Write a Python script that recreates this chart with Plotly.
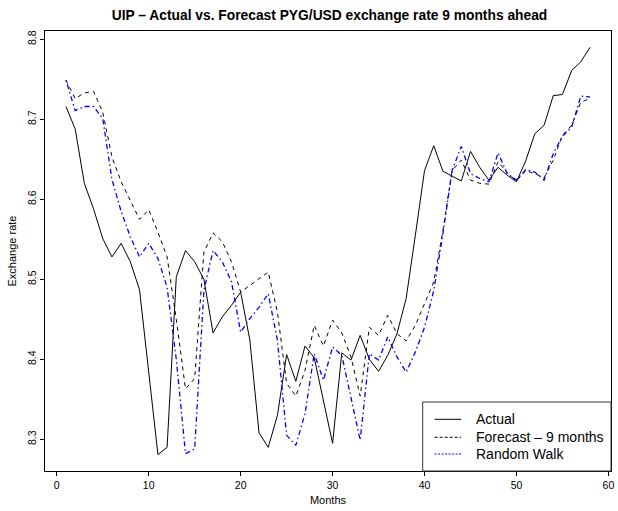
import plotly.graph_objects as go

months = list(range(1, 59))

actual = [8.716, 8.688, 8.620, 8.588, 8.551, 8.528, 8.545, 8.522, 8.487, 8.385,
          8.281, 8.290, 8.503, 8.536, 8.522, 8.500, 8.433, 8.453, 8.4675, 8.484,
          8.424, 8.308, 8.290, 8.330, 8.406, 8.3725, 8.4166, 8.402, 8.350, 8.295,
          8.408, 8.399, 8.430, 8.400, 8.385, 8.405, 8.432, 8.476, 8.555, 8.636,
          8.667, 8.635, 8.629, 8.623, 8.660, 8.640, 8.624, 8.640, 8.630, 8.622,
          8.648, 8.682, 8.6925, 8.7296, 8.731, 8.761, 8.772, 8.790]

forecast = [8.749, 8.726, 8.733, 8.735, 8.709, 8.653, 8.622, 8.599, 8.575, 8.587,
            8.559, 8.528, 8.450, 8.363, 8.376, 8.534, 8.558, 8.547, 8.522, 8.484,
            8.4925, 8.500, 8.509, 8.459, 8.370, 8.354, 8.386, 8.4425, 8.4166, 8.449,
            8.433, 8.403, 8.354, 8.440, 8.430, 8.455, 8.432, 8.423, 8.4425, 8.4696,
            8.4966, 8.561, 8.636, 8.649, 8.624, 8.620, 8.619, 8.647, 8.633, 8.623,
            8.636, 8.632, 8.627, 8.649, 8.680, 8.6925, 8.7216, 8.726]

random_walk = [8.749, 8.711, 8.716, 8.716, 8.701, 8.625, 8.585, 8.553, 8.528, 8.545,
               8.526, 8.490, 8.400, 8.282, 8.288, 8.486, 8.536, 8.522, 8.497, 8.434,
               8.451, 8.465, 8.482, 8.424, 8.305, 8.2925, 8.332, 8.407, 8.374, 8.4154,
               8.405, 8.353, 8.299, 8.407, 8.399, 8.428, 8.403, 8.384, 8.409, 8.440,
               8.486, 8.557, 8.636, 8.666, 8.632, 8.626, 8.622, 8.658, 8.632, 8.624,
               8.637, 8.634, 8.624, 8.657, 8.679, 8.690, 8.729, 8.728]

series_names = ["Actual", "Forecast \u2013 9 months", "Random Walk"]
x_ticks = [0, 10, 20, 30, 40, 50, 60]
y_ticks = [8.3, 8.4, 8.5, 8.6, 8.7, 8.8]

FONT = "Liberation Sans, Arial, Helvetica, sans-serif"

W, H = 618, 511
L, R, T, B = 45, 4, 31, 40
PW, PH = W - L - R, H - T - B

styles = [
    dict(color="black", width=1),
    dict(color="black", width=1, dash="4px,4px"),
    dict(color="#0000FF", width=1.3, dash="1.5px,3px,5px,3px"),
]

fig = go.Figure()
for name, vals, st in zip(series_names, [actual, forecast, random_walk], styles):
    fig.add_trace(go.Scatter(x=months, y=vals, mode="lines", name=name, line=st,
                             showlegend=False))

def px_x(px):
    return (px - L) / PW

def px_y(py):
    return (H - B - py) / PH

# R-style legend box (lower right)
fig.add_shape(type="rect", xref="paper", yref="paper",
              x0=px_x(424.7), x1=1.0, y0=0.0, y1=px_y(402),
              line=dict(color="#333333", width=1), fillcolor="white", layer="above")
legend_rows = [419.3, 437.3, 454.0]
leg_styles = [
    dict(color="black", width=1),
    dict(color="black", width=1, dash="3px,2px"),
    dict(color="#0000FF", width=1, dash="2px,1.5px"),
]
for name, row, st in zip(series_names, legend_rows, leg_styles):
    fig.add_shape(type="line", xref="paper", yref="paper",
                  x0=px_x(436.7), x1=px_x(463.3), y0=px_y(row), y1=px_y(row),
                  line=st, layer="above")
    fig.add_annotation(text=name, xref="paper", yref="paper",
                       x=px_x(476.7), y=px_y(row), xanchor="left", yanchor="middle",
                       showarrow=False,
                       font=dict(family=FONT, size=14, color="black"))

fig.update_layout(
    width=W, height=H,
    margin=dict(l=L, r=R, t=T, b=B),
    paper_bgcolor="white", plot_bgcolor="white",
    font=dict(family=FONT, size=11, color="black"),
    title=dict(text="<b>UIP \u2013 Actual vs. Forecast PYG/USD exchange rate 9 months ahead</b>",
               x=(L + W - R) / 2 / W, xanchor="center", y=1 - 15 / H, yanchor="middle",
               font=dict(family=FONT, size=13.8, color="black")),
    showlegend=False,
)

fig.update_xaxes(range=[-1.28, 60.28], tickvals=x_ticks, ticks="outside", ticklen=4,
                 tickcolor="black", showline=True, linecolor="black", linewidth=1,
                 mirror=True, showgrid=False, zeroline=False,
                 tickfont=dict(family=FONT, size=10.5),
                 title=dict(text="Months", standoff=6, font=dict(family=FONT, size=11)))
fig.update_yaxes(range=[8.2604, 8.8104], tickvals=y_ticks, tickformat=".1f",
                 ticks="outside", ticklen=4, tickangle=-90,
                 tickcolor="black", showline=True, linecolor="black", linewidth=1,
                 mirror=True, showgrid=False, zeroline=False,
                 tickfont=dict(family=FONT, size=10.5),
                 title=dict(text="Exchange rate", standoff=6, font=dict(family=FONT, size=11)))

fig.write_html("out.html", config={"displayModeBar": False},
               post_script="document.body.style.margin='0px';")
